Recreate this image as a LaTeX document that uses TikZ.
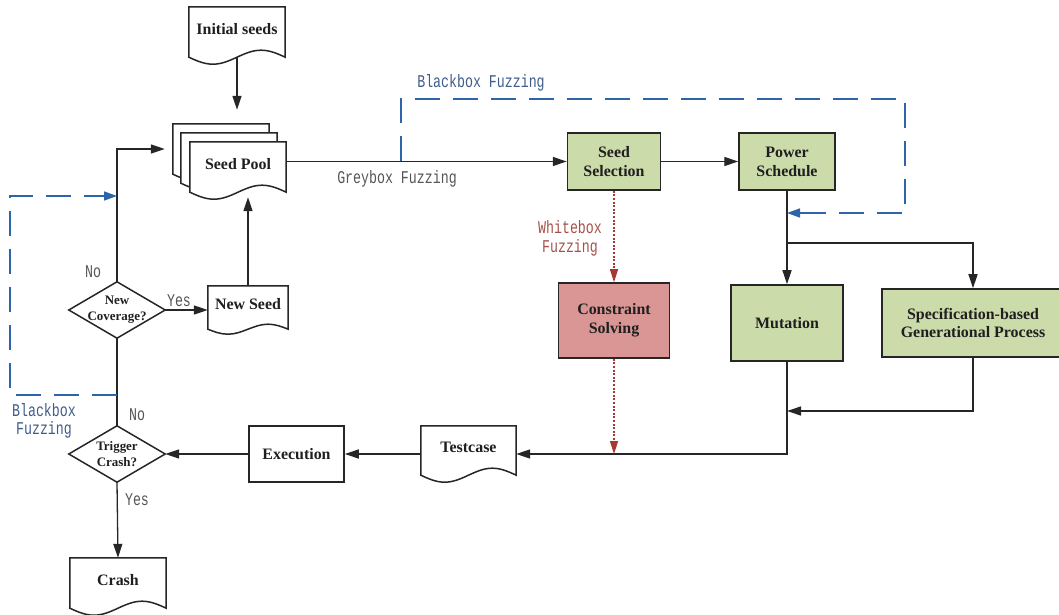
\documentclass[tikz,border=0pt]{standalone}
\usepackage{fontspec}
\setmainfont{Liberation Serif}
\newfontfamily\lblfont[FakeStretch=0.74]{Liberation Mono}
\usetikzlibrary{arrows.meta,calc}

\definecolor{boxgreen}{RGB}{203,219,170}
\definecolor{boxred}{RGB}{217,150,148}
\definecolor{edgegray}{RGB}{38,38,38}
\definecolor{bbblue}{RGB}{46,100,170}
\definecolor{bbtext}{RGB}{62,92,140}
\definecolor{wbred}{RGB}{168,56,50}
\definecolor{wbtext}{RGB}{165,80,74}
\definecolor{lbltext}{RGB}{85,85,85}

\pgfdeclarelayer{bg}
\pgfsetlayers{bg,main}

% outline of a "document" shape (wavy bottom) behind node #1, wave amplitude #2
\newcommand\docoutline[2]{%
  \begin{pgfonlayer}{bg}
    \draw[docline] (#1.north west) -- (#1.south west)
      sin ($(#1.south west)!0.25!(#1.south east)+(0,#2)$)
      cos ($(#1.south west)!0.5!(#1.south east)$)
      sin ($(#1.south west)!0.75!(#1.south east)+(0,-#2)$)
      cos (#1.south east) -- (#1.north east) -- cycle;
  \end{pgfonlayer}}

% outline of a decision diamond around node #1
\newcommand\diamondoutline[1]{%
  \draw[docline, fill=none] (#1.north) -- (#1.east) -- (#1.south) -- (#1.west) -- cycle;}

\tikzset{
  box/.style={draw=edgegray, line width=1.5bp, inner sep=0pt, align=center,
    font=\bfseries\fontsize{16}{19}\selectfont, text=black!88},
  greenbox/.style={box, fill=boxgreen},
  doc/.style={inner sep=0pt, align=center, text depth=7bp,
    font=\bfseries\fontsize{16}{19}\selectfont, text=black!88},
  docline/.style={draw=edgegray, line width=1.5bp, fill=white},
  decision/.style={inner sep=0pt, align=center, minimum width=96bp, minimum height=56bp,
    font=\bfseries\fontsize{13}{16}\selectfont, text=black!88},
  conn/.style={draw=edgegray, line width=1.3bp},
  arr/.style={conn, -{Triangle[length=14bp,width=9bp]}},
  bbline/.style={draw=bbblue, line width=1.5bp, dash pattern=on 25bp off 13bp},
  bbarr/.style={bbline, -{Triangle[length=13bp,width=9bp]}},
  wbarr/.style={draw=wbred, line width=1.5bp, dash pattern=on 2bp off 1.6bp,
    -{Triangle[length=13bp,width=8bp]}},
  lbl/.style={font=\lblfont\fontsize{18}{19}\selectfont, text=lbltext, inner sep=0pt, align=center},
}

\begin{document}
\begin{tikzpicture}[x=1bp, y=-1bp]
\useasboundingbox (0,0) rectangle (1059,615);

% documents
\node[doc, minimum width=96bp, minimum height=50bp] (init) at (237,32) {Initial seeds};
\node[doc, minimum width=96bp, minimum height=50bp] (pool3) at (221,149) {};
\node[doc, minimum width=96bp, minimum height=50bp] (pool2) at (229,158) {};
\node[doc, minimum width=96bp, minimum height=50bp] (pool) at (238,167) {Seed Pool};
\node[doc, minimum width=80bp, minimum height=43bp] (nseed) at (248,307.5) {New Seed};
\node[doc, minimum width=95bp, minimum height=49bp] (test) at (468.5,450.5) {Testcase};
\node[doc, minimum width=96bp, minimum height=50bp] (crash) at (118,583) {Crash};
\docoutline{init}{7}
\docoutline{pool3}{7}
\docoutline{pool2}{7}
\docoutline{pool}{7}
\docoutline{nseed}{5}
\docoutline{test}{7}
\docoutline{crash}{7}

% process boxes
\node[greenbox, minimum width=93bp, minimum height=57bp] (sel) at (614,161.5) {Seed\\Selection};
\node[greenbox, minimum width=96bp, minimum height=57bp] (power) at (787,161.5) {Power\\Schedule};
\node[greenbox, minimum width=112bp, minimum height=76bp] (mut) at (787,323) {Mutation};
\node[greenbox, minimum width=182bp, minimum height=68bp] (spec) at (973,323) {Specification-based\\Generational Process};
\node[box, fill=boxred, minimum width=111bp, minimum height=75bp] (cons) at (614,320.5) {Constraint\\Solving};
\node[box, minimum width=95bp, minimum height=56bp] (exec) at (296.5,454) {Execution};

% decisions
\node[decision] (cov) at (117,310) {New\\Coverage?};
\node[decision] (trig) at (117,454) {Trigger\\Crash?};
\diamondoutline{cov}
\diamondoutline{trig}

% junction points
\coordinate (fork) at (787,243);
\coordinate (join) at (787,411);
\coordinate (bbA) at (401,161.5);
\coordinate (bbTR) at (905,99);
\coordinate (bbEnd) at (787,213);
\coordinate (bbL1) at (117,395);
\coordinate (bbL2) at (10,196);

% main flow
\draw[arr, shorten >=14bp] (init.south) -- (init.south |- pool3.north);
\draw[arr, shorten >=8bp] (cov.north) |- (pool3.west);
\draw[arr, shorten >=5bp] (nseed.north) -- (nseed.north |- pool.south);
\draw[arr] (pool.east |- sel.west) -- (sel.west);
\draw[arr] (sel.east) -- (power.west);
\draw[arr] (power.south) -- (mut.north);
\draw[arr] (fork) -| (spec.north);
\draw[arr] (spec.south) |- (join);
\draw[arr] (mut.south) |- (test.east |- exec.east);
\draw[arr] (test.west |- exec.east) -- (exec.east);
\draw[arr] (exec.west) -- (trig.east);
\draw[conn] (trig.north) -- (cov.south);
\draw[arr] (trig.south) -- (crash.north);
\draw[arr] (cov.east) -- (cov.east -| nseed.west);

% whitebox path
\draw[wbarr] (sel.south) -- (cons.north);
\draw[wbarr] (cons.south) -- (cons.south |- exec.east);

% blackbox paths
\draw[bbarr] (bbA) |- (bbTR) |- (bbEnd);
\draw[bbarr] (bbL1) -| (bbL2) -- (cov.north |- bbL2);

% labels
\node[lbl, text=bbtext] (bbtop) at (481,83) {Blackbox Fuzzing};
\node[lbl] (grey) at (397,179) {Greybox Fuzzing};
\node[lbl, text=wbtext] (wb) at (570,238.5) {Whitebox\\Fuzzing};
\node[lbl, text=bbtext, font=\lblfont\fontsize{18}{18}\selectfont] (bbleft) at (44,421) {Blackbox\\Fuzzing};
\node[lbl] (no1) at (93,272) {No};
\node[lbl] (yes1) at (179,301) {Yes};
\node[lbl] (no2) at (137,415) {No};
\node[lbl] (yes2) at (137,500) {Yes};
\end{tikzpicture}
\end{document}
